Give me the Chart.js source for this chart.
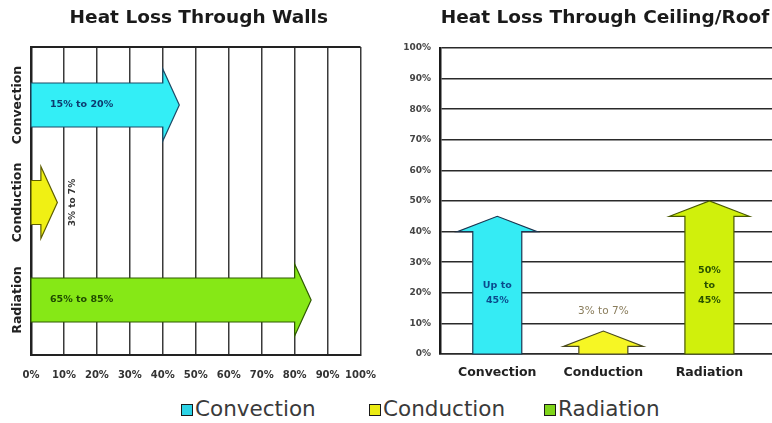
<!DOCTYPE html>
<html>
<head>
<meta charset="utf-8">
<script src="https://cdn.jsdelivr.net/npm/chart.js@4.4.1/dist/chart.umd.min.js"></script>
<style>
  html, body { margin: 0; padding: 0; background: #fff; overflow: hidden; }
  #wrap { position: relative; width: 772px; height: 423px; }
  canvas { position: absolute; top: 0; }
  #walls { left: 0; }
  #roof { left: 390px; }
  .lg { position: absolute; top: 396px; display: flex; align-items: center;
        font-family: 'DejaVu Sans', sans-serif; font-size: 21.5px; color: #3a3a3a; }
  .sw { width: 10px; height: 10px; border: 1.5px solid #1a1a1a; margin-right: 2px; margin-top: 2px; }
</style>
</head>
<body>
<div id="wrap">
  <canvas id="walls" width="390" height="390"></canvas>
  <canvas id="roof" width="382" height="390"></canvas>
  <div class="lg" style="left:181px"><div class="sw" style="background:#2cd3e6"></div><span id="lg0"></span></div>
  <div class="lg" style="left:369px"><div class="sw" style="background:#ecec14"></div><span id="lg1"></span></div>
  <div class="lg" style="left:544px"><div class="sw" style="background:#7fd41a"></div><span id="lg2"></span></div>
</div>
<script>
// ---------- data ----------
const categories = ['Convection', 'Conduction', 'Radiation'];
const wallsTitle = 'Heat Loss Through Walls';
const roofTitle = 'Heat Loss Through Ceiling/Roof';
// arrow tip positions (percent)
const wallsArrowTip = [45, 8, 85];
const roofArrowTip = [45, 7.5, 50];
// text printed on / beside each arrow
const wallsNotes = ['15% to 20%', '3% to 7%', '65% to 85%'];
const roofNotes = ['Up to\n45%', '3% to 7%', '50%\nto\n45%'];
// percent ticks
const percentTicks = [0, 10, 20, 30, 40, 50, 60, 70, 80, 90, 100];

// ---------- styles ----------
const FONT = "'DejaVu Sans', sans-serif";
const wallsStyle = {
  fills: ['#33eef6', '#f0f014', '#86e816'],
  strokes: ['#1d4a66', '#5e5e00', '#2f5a00'],
  text: ['#0d3a6e', '#333333', '#1f4a00']
};
const roofStyle = {
  fills: ['#35ebf4', '#f6f624', '#d0f00c'],
  strokes: ['#1d3550', '#4a4a20', '#485800'],
  text: ['#0b4a8c', '#8a7d5c', '#2a5200']
};
categories.forEach((c, i) => { document.getElementById('lg' + i).textContent = c; });

// ---------- plugins ----------
const arrowPlugin = {
  id: 'arrows',
  afterDatasetsDraw(chart, args, opts) {
    const ctx = chart.ctx;
    const horizontal = chart.options.indexAxis === 'y';
    const vScale = horizontal ? chart.scales.x : chart.scales.y;
    const meta = chart.getDatasetMeta(0);
    const ds = chart.data.datasets[0];
    meta.data.forEach((bar, i) => {
      const raw = ds.data[i];
      const val = horizontal ? raw.x : raw.y;
      const tip = vScale.getPixelForValue(val);
      const neck = vScale.getPixelForValue(val - opts.headLen);
      const base = vScale.getPixelForValue(0);
      const c = horizontal ? bar.y : bar.x;
      const thick = horizontal ? bar.height : bar.width;
      const hs = thick / 2, hh = thick * opts.headRatio / 2;
      ctx.save();
      ctx.beginPath();
      if (horizontal) {
        ctx.moveTo(base, c - hs); ctx.lineTo(neck, c - hs); ctx.lineTo(neck, c - hh);
        ctx.lineTo(tip, c); ctx.lineTo(neck, c + hh); ctx.lineTo(neck, c + hs); ctx.lineTo(base, c + hs);
      } else {
        ctx.moveTo(c - hs, base); ctx.lineTo(c - hs, neck); ctx.lineTo(c - hh, neck);
        ctx.lineTo(c, tip); ctx.lineTo(c + hh, neck); ctx.lineTo(c + hs, neck); ctx.lineTo(c + hs, base);
      }
      ctx.closePath();
      ctx.fillStyle = opts.style.fills[i];
      ctx.fill();
      ctx.lineWidth = 1.2;
      ctx.strokeStyle = opts.style.strokes[i];
      ctx.stroke();

      // note text
      const note = opts.notes[i];
      const lines = note.split('\n');
      ctx.fillStyle = opts.style.text[i];
      ctx.font = 'bold 9.5px ' + FONT;
      if (horizontal) {
        const w = ctx.measureText(note).width;
        if (neck - base > w + 30) {
          ctx.textAlign = 'left'; ctx.textBaseline = 'middle';
          ctx.fillText(note, base + 19, c);
        } else {
          ctx.font = 'bold 9px ' + FONT;
          ctx.translate(tip + 15, c);
          ctx.rotate(-Math.PI / 2);
          ctx.textAlign = 'center'; ctx.textBaseline = 'middle';
          ctx.fillText(note, 0, 0);
        }
      } else {
        const lh = 15;
        const blockH = lines.length * lh;
        ctx.textAlign = 'center'; ctx.textBaseline = 'middle';
        if (base - neck > blockH + 20) {
          const mid = (base + neck) / 2;
          lines.forEach((ln, k) => ctx.fillText(ln, c, mid - blockH / 2 + lh / 2 + k * lh));
        } else {
          ctx.font = '10.5px ' + FONT;
          ctx.fillText(note, c, tip - 20);
        }
      }
      ctx.restore();
    });
  }
};

const framePlugin = {
  id: 'frame',
  afterDraw(chart, args, opts) {
    const { ctx, chartArea } = chart;
    ctx.save();
    if (opts.topRule) {
      ctx.strokeStyle = '#222';
      ctx.lineWidth = 2;
      ctx.beginPath();
      ctx.moveTo(chartArea.left, chartArea.top);
      ctx.lineTo(chartArea.right, chartArea.top);
      ctx.stroke();
    }
    ctx.font = 'bold 18.5px ' + FONT;
    ctx.fillStyle = '#1a1a1a';
    ctx.textAlign = 'center';
    ctx.textBaseline = 'middle';
    ctx.fillText(opts.title, (chartArea.left + chartArea.right) / 2 + opts.shift, 18);
    ctx.restore();
  }
};

const catTick = (v) => (Number.isInteger(v) && categories[v] !== undefined) ? categories[v] : '';
const pctTick = (v) => v + '%';

// ---------- walls chart (horizontal arrows) ----------
new Chart(document.getElementById('walls'), {
  type: 'bar',
  data: {
    datasets: [{
      data: wallsArrowTip.map((v, i) => ({ x: v, y: i })),
      backgroundColor: 'rgba(0,0,0,0)',
      borderWidth: 0,
      barThickness: 44
    }]
  },
  plugins: [arrowPlugin, framePlugin],
  options: {
    indexAxis: 'y',
    responsive: false,
    animation: false,
    layout: { padding: { top: 47, right: 27, left: 0, bottom: 0 } },
    plugins: {
      legend: { display: false },
      tooltip: { enabled: false },
      arrows: { headLen: 5, headRatio: 1.64, notes: wallsNotes, style: wallsStyle },
      frame: { title: wallsTitle, shift: 3, topRule: true }
    },
    scales: {
      x: {
        type: 'linear', min: 0, max: 100, offset: false,
        afterBuildTicks: (s) => { s.ticks = percentTicks.map(v => ({ value: v })); },
        afterFit: (s) => { s.height = 35; },
        grid: { color: '#3a3a3a', lineWidth: 1.5, drawTicks: false, offset: false },
        border: { color: '#222', width: 2 },
        ticks: { callback: pctTick, autoSkip: false, maxRotation: 0, padding: 14,
                 color: '#333', font: { family: FONT, weight: 'bold', size: 10 } }
      },
      y: {
        type: 'linear', min: -0.595, max: 2.564, reverse: true, offset: false,
        afterBuildTicks: (s) => { s.ticks = categories.map((c, i) => ({ value: i })); },
        afterFit: (s) => { s.width = 31; },
        grid: { display: false, drawTicks: false, offset: false },
        border: { display: true, color: '#222', width: 2.5 },
        ticks: { callback: catTick, autoSkip: false, minRotation: 90, maxRotation: 90,
                 crossAlign: 'center', padding: -27,
                 color: '#222', font: { family: FONT, weight: 'bold', size: 12.5 } }
      }
    }
  }
});

// ---------- roof chart (vertical arrows) ----------
new Chart(document.getElementById('roof'), {
  type: 'bar',
  data: {
    datasets: [{
      data: roofArrowTip.map((v, i) => ({ x: i, y: v })),
      backgroundColor: 'rgba(0,0,0,0)',
      borderWidth: 0,
      barThickness: 49
    }]
  },
  plugins: [arrowPlugin, framePlugin],
  options: {
    responsive: false,
    animation: false,
    layout: { padding: { top: 48, right: 0, left: 0, bottom: 0 } },
    plugins: {
      legend: { display: false },
      tooltip: { enabled: false },
      arrows: { headLen: 5, headRatio: 1.63, notes: roofNotes, style: roofStyle },
      frame: { title: roofTitle, shift: -1, topRule: false }
    },
    scales: {
      x: {
        type: 'linear', min: -0.54, max: 2.59, offset: false,
        afterBuildTicks: (s) => { s.ticks = categories.map((c, i) => ({ value: i })); },
        afterFit: (s) => { s.height = 36; },
        grid: { display: false, drawTicks: false, offset: false },
        border: { display: true, color: '#2a2a2a', width: 1.5 },
        ticks: { callback: catTick, autoSkip: false, maxRotation: 0, padding: 11.5,
                 color: '#222', font: { family: FONT, weight: 'bold', size: 12.5 } }
      },
      y: {
        type: 'linear', min: 0, max: 100, offset: false,
        afterBuildTicks: (s) => { s.ticks = percentTicks.map(v => ({ value: v })); },
        afterFit: (s) => { s.width = 50; },
        grid: { color: '#2a2a2a', lineWidth: 1.5, drawTicks: false },
        border: { display: true, color: '#1a1a1a', width: 2.5 },
        ticks: { callback: pctTick, autoSkip: false, padding: 9,
                 color: '#444', font: { family: FONT, weight: 'bold', size: 9 } }
      }
    }
  }
});
</script>
</body>
</html>
